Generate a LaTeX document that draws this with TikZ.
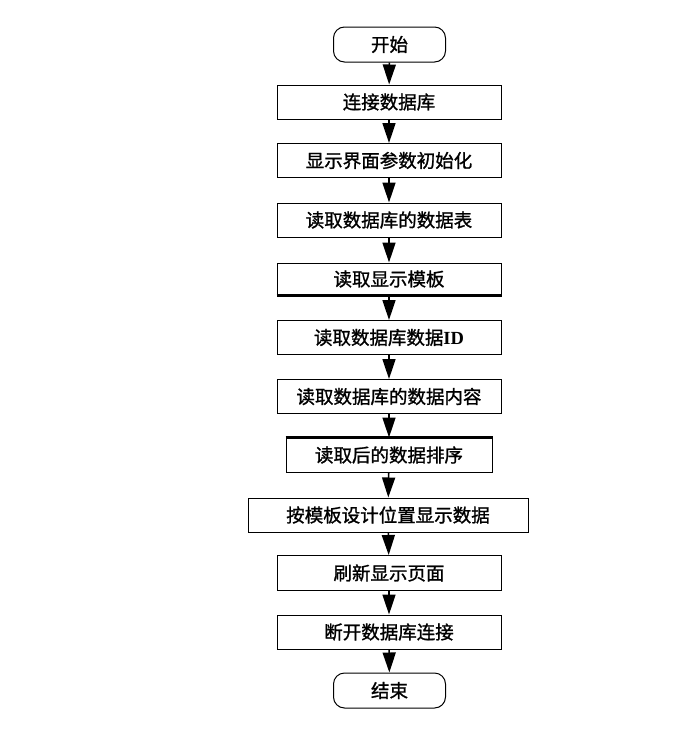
\documentclass[tikz,border=0pt]{standalone}
\usepackage{fontspec}
\setmainfont{Liberation Serif}
\newfontfamily\cjk{Noto Sans CJK SC}[FakeBold=1.2]
\usetikzlibrary{arrows.meta}
\tikzset{
  proc/.style={draw, line width=1pt, minimum width=224pt, minimum height=34pt, inner sep=0pt, font=\cjk\fontsize{18.5pt}{21pt}\selectfont},
  term/.style={draw, line width=1pt, rounded corners=11pt, minimum width=112pt, minimum height=35pt, inner sep=0pt, font=\cjk\fontsize{18.5pt}{21pt}\selectfont},
  flow/.style={line width=1.6pt, -{Triangle[length=20pt,width=13pt]}},
  thick edge/.style={line width=3pt}
}
\begin{document}
\begin{tikzpicture}[x=1pt,y=-1pt]
\useasboundingbox (0,0) rectangle (685,739);
\node[term] (start) at (389.5,44.5) {开始};
\node[proc] (n1) at (389,102) {连接数据库};
\node[proc] (n2) at (389,160.5) {显示界面参数初始化};
\node[proc] (n3) at (389,220) {读取数据库的数据表};
\node[proc, minimum height=32pt] (n4) at (389,279) {读取显示模板};
\node[proc] (n5) at (389,337.5) {读取数据库数据{\rmfamily\bfseries ID}};
\node[proc] (n6) at (389,396.5) {读取数据库的数据内容};
\node[proc, minimum width=206pt] (n7) at (389,455) {读取后的数据排序};
\node[proc, minimum width=280pt] (n8) at (388,515) {按模板设计位置显示数据};
\node[proc, minimum height=35pt] (n9) at (389,573) {刷新显示页面};
\node[proc] (n10) at (389,632) {断开数据库连接};
\node[term] (end) at (389.5,690.5) {结束};
\draw[thick edge] (n4.south west) -- (n4.south east);
\draw[thick edge] (n7.north west) -- (n7.north east);
\draw[flow] (start) -- (n1);
\draw[flow] (n1) -- (n2);
\draw[flow] (n2) -- (n3);
\draw[flow] (n3) -- (n4);
\draw[flow] (n4) -- (n5);
\draw[flow] (n5) -- (n6);
\draw[flow] (n6) -- (n7);
\draw[flow] (n7) -- (n8);
\draw[flow] (n8) -- (n9);
\draw[flow] (n9) -- (n10);
\draw[flow] (n10) -- (end);
\end{tikzpicture}
\end{document}
